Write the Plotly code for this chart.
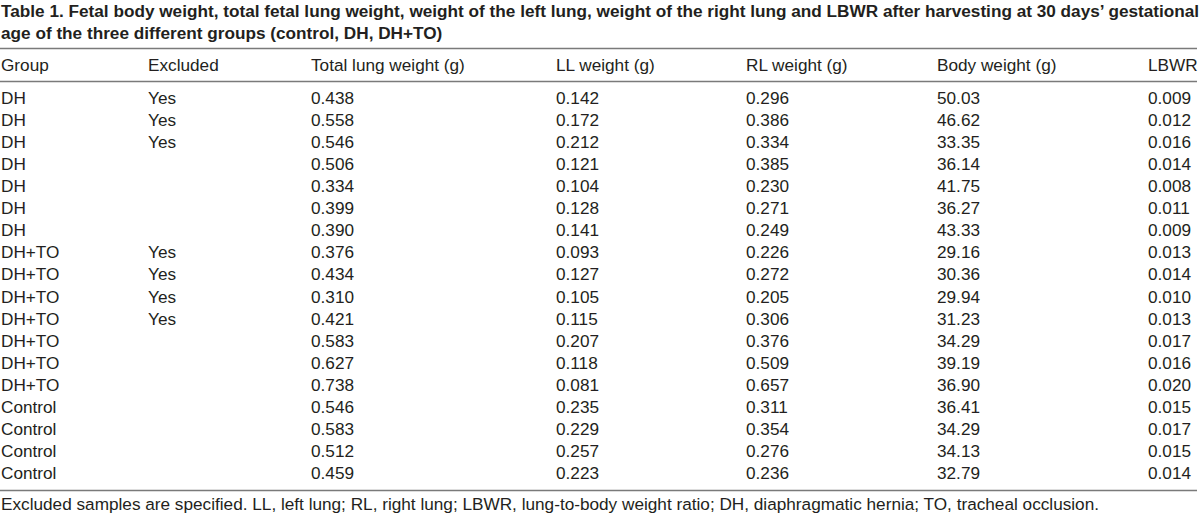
import plotly.graph_objects as go

title_lines = [
    "Table 1. Fetal body weight, total fetal lung weight, weight of the left lung, weight of the right lung and LBWR after harvesting at 30 days\u2019 gestational",
    "age of the three different groups (control, DH, DH+TO)",
]
headers = ["Group", "Excluded", "Total lung weight (g)", "LL weight (g)", "RL weight (g)", "Body weight (g)", "LBWR"]
group = ["DH"] * 7 + ["DH+TO"] * 7 + ["Control"] * 4
excluded = ["Yes", "Yes", "Yes", "", "", "", "",
            "Yes", "Yes", "Yes", "Yes", "", "", "",
            "", "", "", ""]
total_lung = ["0.438", "0.558", "0.546", "0.506", "0.334", "0.399", "0.390",
              "0.376", "0.434", "0.310", "0.421", "0.583", "0.627", "0.738",
              "0.546", "0.583", "0.512", "0.459"]
ll_weight = ["0.142", "0.172", "0.212", "0.121", "0.104", "0.128", "0.141",
             "0.093", "0.127", "0.105", "0.115", "0.207", "0.118", "0.081",
             "0.235", "0.229", "0.257", "0.223"]
rl_weight = ["0.296", "0.386", "0.334", "0.385", "0.230", "0.271", "0.249",
             "0.226", "0.272", "0.205", "0.306", "0.376", "0.509", "0.657",
             "0.311", "0.354", "0.276", "0.236"]
body_weight = ["50.03", "46.62", "33.35", "36.14", "41.75", "36.27", "43.33",
               "29.16", "30.36", "29.94", "31.23", "34.29", "39.19", "36.90",
               "36.41", "34.29", "34.13", "32.79"]
lbwr = ["0.009", "0.012", "0.016", "0.014", "0.008", "0.011", "0.009",
        "0.013", "0.014", "0.010", "0.013", "0.017", "0.016", "0.020",
        "0.015", "0.017", "0.015", "0.014"]
footnote = ("Excluded samples are specified. LL, left lung; RL, right lung; LBWR, lung-to-body weight ratio; "
            "DH, diaphragmatic hernia; TO, tracheal occlusion.")

columns = [group, excluded, total_lung, ll_weight, rl_weight, body_weight, lbwr]

# layout geometry (pixel-like axis units)
col_x = [0, 147, 310, 555, 745, 936, 1147]
row_y0, row_dy = 98, 22.06
header_y = 64.5
FONT = "Liberation Sans, Arial, Helvetica, sans-serif"
TXT = "#231f20"
RULE = "#7a7a7a"
size = 17.2


def label(x, y, text, bold=False):
    return dict(
        x=x, y=y, xref="x", yref="y", text=("<b>%s</b>" % text) if bold else text,
        showarrow=False, xanchor="left", yanchor="middle", align="left",
        borderpad=0, font=dict(family=FONT, size=size, color=TXT),
    )


annotations = []
annotations.append(label(0, 11, title_lines[0], bold=True))
annotations.append(label(0, 33, title_lines[1], bold=True))
for cx, head, col in zip(col_x, headers, columns):
    annotations.append(label(cx, header_y, head))
    for i, v in enumerate(col):
        if v:
            annotations.append(label(cx, row_y0 + i * row_dy, v))
annotations.append(label(0, 504, footnote))

fig = go.Figure()
fig.add_trace(go.Scatter(x=[0, 1200], y=[0, 514], mode="markers",
                         marker=dict(opacity=0), hoverinfo="skip", showlegend=False))

for yy in [48.5, 81.5, 490.5]:
    fig.add_shape(type="line", x0=0, x1=1197, y0=yy, y1=yy,
                  xref="x", yref="y", line=dict(color=RULE, width=1.6))

fig.update_layout(
    width=1200, height=514,
    margin=dict(l=0, r=0, t=0, b=0),
    paper_bgcolor="white", plot_bgcolor="white",
    xaxis=dict(range=[0, 1200], visible=False, fixedrange=True),
    yaxis=dict(range=[514, 0], visible=False, fixedrange=True),
    annotations=annotations,
)

fig.write_html(
    "out.html",
    config={"displayModeBar": False, "staticPlot": True},
    post_script="document.body.style.margin='0';document.body.style.padding='0';",
)
